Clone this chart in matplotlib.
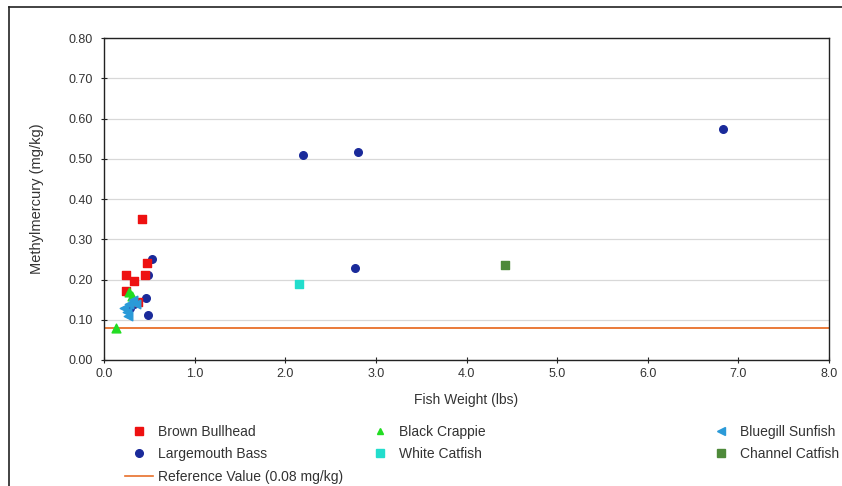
import matplotlib
matplotlib.use('Agg')
import matplotlib.pyplot as plt
from matplotlib.lines import Line2D

plt.rcParams['font.family'] = ['Liberation Sans', 'DejaVu Sans']

# fish weight (lbs) and methylmercury (mg/kg) per species
bullhead_x = [0.42, 0.47, 0.24, 0.33, 0.24, 0.38, 0.45]
bullhead_y = [0.35, 0.24, 0.211, 0.196, 0.171, 0.144, 0.21]

crappie_x = [0.13, 0.28, 0.31]
crappie_y = [0.08, 0.17, 0.16]

bluegill_x = [0.25, 0.28, 0.32, 0.22, 0.35, 0.27]
bluegill_y = [0.12, 0.14, 0.15, 0.13, 0.14, 0.11]

bass_x = [6.83, 2.20, 2.80, 2.77, 0.53, 0.49, 0.46, 0.48, 0.29, 0.33]
bass_y = [0.574, 0.509, 0.517, 0.229, 0.251, 0.211, 0.154, 0.112, 0.13, 0.14]

white_x = [2.15]
white_y = [0.189]

channel_x = [4.43]
channel_y = [0.236]

ref_value = 0.08

xticks = [0, 1, 2, 3, 4, 5, 6, 7, 8]
yticks = [0.0, 0.1, 0.2, 0.3, 0.4, 0.5, 0.6, 0.7, 0.8]

c_bass = '#1A2A9A'
c_bull = '#EE1111'
c_crap = '#22DD22'
c_blue = '#2A9AD8'
c_white = '#22DDCC'
c_chan = '#4E8A3A'
c_ref = '#E8702A'

fig = plt.figure(figsize=(8.42, 4.86), dpi=100)
ax = fig.add_axes([104 / 842, 1 - 360 / 486, (829 - 104) / 842, (360 - 38) / 486])

ax.axhline(ref_value, color=c_ref, lw=1.3, zorder=2)
ax.scatter(bass_x, bass_y, marker='o', s=30, color=c_bass, zorder=3)
ax.scatter(bullhead_x, bullhead_y, marker='s', s=38, color=c_bull, zorder=3)
ax.scatter(crappie_x, crappie_y, marker='^', s=40, color=c_crap, zorder=4)
ax.scatter(bluegill_x, bluegill_y, marker='<', s=38, color=c_blue, zorder=4)
ax.scatter(white_x, white_y, marker='s', s=34, color=c_white, zorder=3)
ax.scatter(channel_x, channel_y, marker='s', s=34, color=c_chan, zorder=3)

ax.set_xlim(0, 8)
ax.set_ylim(0, 0.8)
ax.set_xticks(xticks)
ax.set_xticklabels([f'{v:.1f}' for v in xticks])
ax.set_yticks(yticks)
ax.set_yticklabels([f'{v:.2f}' for v in yticks])
ax.tick_params(labelsize=9, length=4, width=0.8, color='#222222', labelcolor='#333333',
               direction='inout')
ax.tick_params(axis='y', pad=6)
ax.tick_params(axis='x', pad=4)
ax.yaxis.grid(True, color='#D8D8D8', lw=0.9)
ax.set_axisbelow(True)
for s in ax.spines.values():
    s.set_color('#222222')
    s.set_linewidth(1.0)

ax.set_xlabel('Fish Weight (lbs)', fontsize=10, color='#333333', labelpad=9)
ax.set_ylabel('Methylmercury (mg/kg)', fontsize=10.5, color='#333333', labelpad=18)


def legend_column(handles, labels, x0):
    leg = fig.legend(handles, labels, loc='upper left',
                     bbox_to_anchor=(x0 / 842, 1 - 418 / 486), frameon=False,
                     fontsize=10, handlelength=2.0, handletextpad=0.4,
                     labelspacing=0.6, labelcolor='#333333', borderpad=0)
    return leg


legend_column([Line2D([], [], ls='none', marker='s', ms=6, color=c_bull),
               Line2D([], [], ls='none', marker='o', ms=5.5, color=c_bass),
               Line2D([], [], color=c_ref, lw=1.2)],
              ['Brown Bullhead', 'Largemouth Bass', 'Reference Value (0.08 mg/kg)'], 118)
legend_column([Line2D([], [], ls='none', marker='^', ms=5, color=c_crap),
               Line2D([], [], ls='none', marker='s', ms=5.5, color=c_white)],
              ['Black Crappie', 'White Catfish'], 359)
legend_column([Line2D([], [], ls='none', marker='<', ms=5.5, color=c_blue),
               Line2D([], [], ls='none', marker='s', ms=5.5, color=c_chan)],
              ['Bluegill Sunfish', 'Channel Catfish'], 700)

# outer frame lines (top and left)
fig.add_artist(Line2D([9 / 842, 1], [1 - 7 / 486, 1 - 7 / 486], color='#222222', lw=1.2))
fig.add_artist(Line2D([9 / 842, 9 / 842], [0, 1 - 7 / 486], color='#222222', lw=1.2))

fig.savefig('out.png', dpi=100)
